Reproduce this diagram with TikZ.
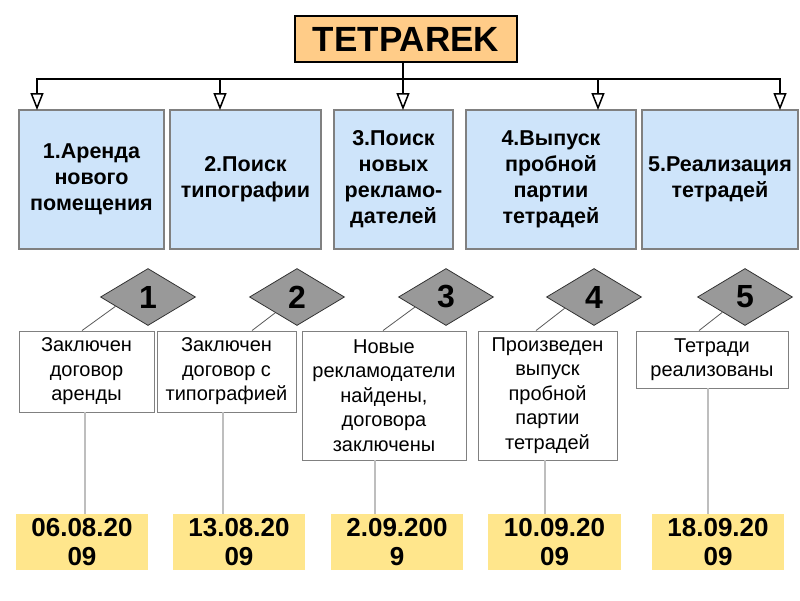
\documentclass[tikz,border=0pt]{standalone}
\usepackage{fontspec}
\setmainfont{Liberation Sans}
\usetikzlibrary{arrows.meta,shapes.geometric}
\definecolor{titlefill}{RGB}{255,204,136}
\definecolor{bluefill}{RGB}{206,228,250}
\definecolor{datefill}{RGB}{255,230,140}
\definecolor{diafill}{RGB}{153,153,153}
\definecolor{boxline}{RGB}{128,128,128}
\definecolor{vgray}{RGB}{190,190,190}
\tikzset{
  titlebox/.style={draw=black,line width=2pt,fill=titlefill,inner sep=0pt,
    font=\fontsize{35}{37}\selectfont\bfseries},
  taskbox/.style={draw=boxline,line width=1.2pt,fill=bluefill,inner sep=0pt,
    minimum height=139pt,align=center,
    font=\fontsize{21.5}{26}\selectfont\bfseries},
  numdia/.style={diamond,draw=black!80,line width=0.8pt,fill=diafill,inner sep=0pt,
    minimum width=95pt,minimum height=57pt,
    font=\fontsize{32}{34}\selectfont\bfseries},
  resbox/.style={draw=boxline,line width=0.9pt,fill=white,inner sep=0pt,align=center,
    font=\fontsize{20}{24.5}\selectfont},
  datebox/.style={fill=datefill,inner sep=0pt,minimum height=56pt,align=center,
    font=\fontsize{26}{29.5}\selectfont\bfseries},
  busline/.style={line width=2.2pt,black},
  busarrow/.style={busline,-{Triangle[length=17pt,width=13pt,fill=white,line width=1.5pt]}},
  diagline/.style={line width=0.8pt,black!65},
  vline/.style={line width=1.3pt,vgray}
}
\begin{document}
\begin{tikzpicture}[x=1pt,y=-1pt]
\useasboundingbox (0,0) rectangle (800,600);
% title
\node[titlebox,minimum width=222pt,minimum height=46pt] (title) at (406,39) {TETPAREK};
% task boxes
\node[taskbox,minimum width=145pt] (b1) at (91.5,179.5) {1.Аренда\\нового\\помещения};
\node[taskbox,minimum width=151pt] (b2) at (245.5,179.5) {2.Поиск\\типографии};
\node[taskbox,minimum width=119pt] (b3) at (393.5,179.5) {3.Поиск\\новых\\рекламо-\\дателей};
\node[taskbox,minimum width=170pt] (b4) at (551,179.5) {4.Выпуск\\пробной\\партии\\тетрадей};
\node[taskbox,minimum width=156pt] (b5) at (720,179.5) {5.Реализация\\тетрадей};
% bus
\coordinate (bus) at (403,79);
\coordinate (a1) at (37,110);
\coordinate (a2) at (220,110);
\coordinate (a3) at (403,110);
\coordinate (a4) at (598,110);
\coordinate (a5) at (780,110);
\draw[busarrow] (a3 |- title.south) -- (a3);
\draw[busarrow] (bus) -| (a1);
\draw[busarrow] (bus) -| (a2);
\draw[busarrow] (bus) -| (a4);
\draw[busarrow] (bus) -| (a5);
% result boxes
\node[resbox,minimum width=135pt,minimum height=81pt] (w1) at (86.5,371.5) {Заключен\\договор\\аренды};
\node[resbox,minimum width=139pt,minimum height=81pt] (w2) at (226.5,371.5) {Заключен\\договор с\\типографией};
\node[resbox,minimum width=164pt,minimum height=129pt] (w3) at (384,395.5) {Новые\\рекламодатели\\найдены,\\договора\\заключены};
\node[resbox,minimum width=139pt,minimum height=129pt] (w4) at (547.5,395.5) {Произведен\\выпуск\\пробной\\партии\\тетрадей};
\node[resbox,minimum width=152pt,minimum height=57pt] (w5) at (712,359.5) {Тетради\\реализованы};
% diamonds
\node[numdia] (d1) at (148,297) {1};
\node[numdia] (d2) at (297,297) {2};
\node[numdia] (d3) at (446,297) {3};
\node[numdia] (d4) at (594,297) {4};
\node[numdia] (d5) at (745,297) {5};
% diamond connectors
\draw[diagline] (d1.196) -- ([xshift=-4.5pt]w1.north);
\draw[diagline] (d2.216) -- ([xshift=25.5pt]w2.north);
\draw[diagline] (d3.198) -- ([xshift=-1pt]w3.north);
\draw[diagline] (d4.201) -- ([xshift=-11.5pt]w4.north);
\draw[diagline] (d5.214) -- ([xshift=-13pt]w5.north);
% date boxes
\node[datebox,minimum width=132pt] (t1) at (82,542) {06.08.20\\09};
\node[datebox,minimum width=132pt] (t2) at (239,542) {13.08.20\\09};
\node[datebox,minimum width=132pt] (t3) at (397,542) {2.09.200\\9};
\node[datebox,minimum width=133pt] (t4) at (554.5,542) {10.09.20\\09};
\node[datebox,minimum width=132pt] (t5) at (718,542) {18.09.20\\09};
% vertical lines
\draw[vline] ([xshift=-1.5pt]w1.south) -- ([xshift=-1.5pt]w1.south |- t1.north);
\draw[vline] ([xshift=-3.5pt]w2.south) -- ([xshift=-3.5pt]w2.south |- t2.north);
\draw[vline] ([xshift=-9pt]w3.south) -- ([xshift=-9pt]w3.south |- t3.north);
\draw[vline] ([xshift=-2.5pt]w4.south) -- ([xshift=-2.5pt]w4.south |- t4.north);
\draw[vline] ([xshift=-4pt]w5.south) -- ([xshift=-4pt]w5.south |- t5.north);
\end{tikzpicture}
\end{document}
